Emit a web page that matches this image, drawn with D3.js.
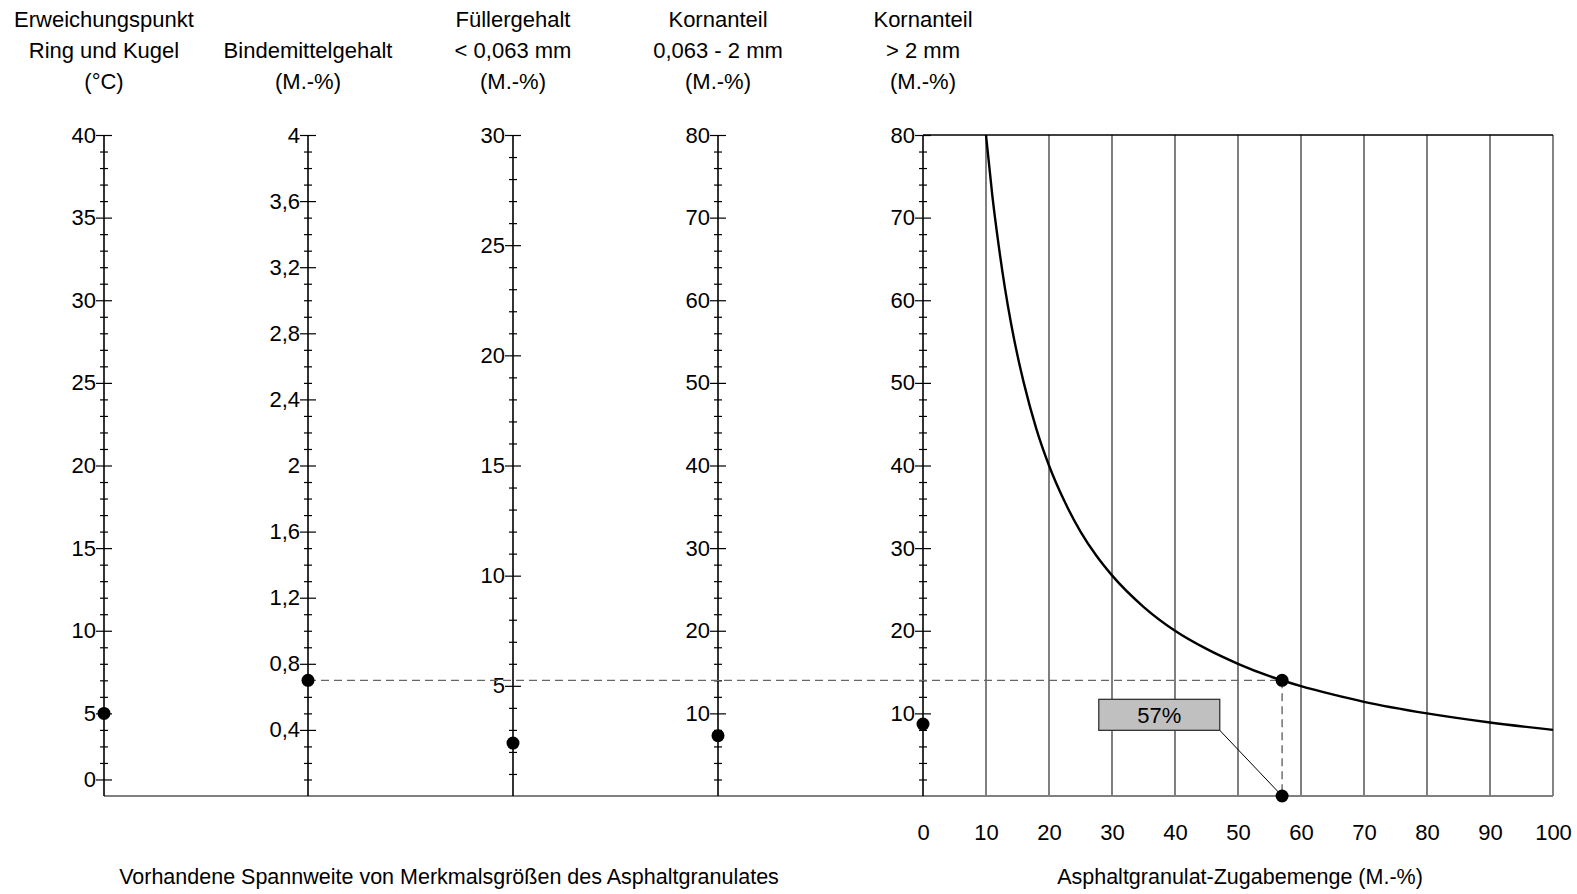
<!DOCTYPE html>
<html>
<head>
<meta charset="utf-8">
<script src="https://cdn.jsdelivr.net/npm/d3@7"></script>
<style>
  html, body { margin: 0; padding: 0; background: #fff; }
  svg { display: block; font-family: "Liberation Sans", Arial, sans-serif; }
</style>
</head>
<body>
<svg id="chart" width="1577" height="894"></svg>
<script>
// ---------- data ----------
const axisHeaders = [
  ["Erweichungspunkt", "Ring und Kugel", "(°C)"],
  ["", "Bindemittelgehalt", "(M.-%)"],
  ["Füllergehalt", "< 0,063 mm", "(M.-%)"],
  ["Kornanteil", "0,063 - 2 mm", "(M.-%)"],
  ["Kornanteil", "> 2 mm", "(M.-%)"]
];
const axisMax = [40, 4, 30, 80, 80];
const axisMinorStep = [1, 0.1, 1, 2, 2];
const axisTickValues = [
  [1, 5, 10, 15, 20, 25, 30, 35, 40],
  [0.4, 0.8, 1.2, 1.6, 2, 2.4, 2.8, 3.2, 3.6, 4],
  [5, 10, 15, 20, 25, 30],
  [10, 20, 30, 40, 50, 60, 70, 80],
  [10, 20, 30, 40, 50, 60, 70, 80]
];
const axisTickLabels = [
  ["0", "5", "10", "15", "20", "25", "30", "35", "40"],
  ["0,4", "0,8", "1,2", "1,6", "2", "2,4", "2,8", "3,2", "3,6", "4"],
  ["5", "10", "15", "20", "25", "30"],
  ["10", "20", "30", "40", "50", "60", "70", "80"],
  ["10", "20", "30", "40", "50", "60", "70", "80"]
];
const granulatValues = [5, 0.7, 2.4, 7.3, 8.7];

const zugabeTicks = [0, 10, 20, 30, 40, 50, 60, 70, 80, 90, 100];
const curveZugabe = [10, 11, 12, 13, 14, 15, 16, 18, 20, 22.5, 25, 27.5, 30, 35, 40, 45, 50, 55, 60, 65, 70, 80, 90, 100];
const curveKorn   = [80, 72.7, 66.7, 61.5, 57.1, 53.3, 50, 44.4, 40, 35.6, 32, 29.1, 26.7, 22.9, 20, 17.8, 16, 14.5, 13.3, 12.3, 11.4, 10, 8.9, 8];
const resultZugabe = 57;
const resultKorn = 14;
const resultLabel = "57%";

const titleLeft = "Vorhandene Spannweite von Merkmalsgrößen des Asphaltgranulates";
const titleRight = "Asphaltgranulat-Zugabemenge (M.-%)";

// ---------- layout ----------
const svg = d3.select("#chart");
const yTop = 135, yBase = 796;
const axisX = [104, 308, 513, 718, 923];
const xRight = 1553;

const yScales = axisMax.map(m => d3.scaleLinear().domain([0, m]).range([yBase, yTop]));
const xScale = d3.scaleLinear().domain([0, 100]).range([axisX[4], xRight]);
const yCurve = yScales[4];

const fs = 22;

// grid for right plot
const gGrid = svg.append("g");
gGrid.selectAll("line.v").data(zugabeTicks.filter(d => d > 0)).join("line")
  .attr("x1", d => xScale(d)).attr("x2", d => xScale(d))
  .attr("y1", yTop).attr("y2", yBase)
  .attr("stroke", d => d === 100 ? "#666" : "#2a2a2a").attr("stroke-width", d => d === 100 ? 1.6 : 1.2);
gGrid.append("line").attr("x1", axisX[4]).attr("x2", xRight).attr("y1", yTop).attr("y2", yTop)
  .attr("stroke", "#000").attr("stroke-width", 1.3);

// baseline
svg.append("line").attr("x1", axisX[0]).attr("x2", xRight).attr("y1", yBase).attr("y2", yBase)
  .attr("stroke", "#808080").attr("stroke-width", 2);

// x labels right plot
const xAxis = d3.axisBottom(xScale).tickValues(zugabeTicks).tickSize(0).tickPadding(28).tickFormat(d3.format("d"));
const gx = svg.append("g").attr("transform", `translate(0,${yBase})`).call(xAxis);
gx.select(".domain").remove();
gx.selectAll("text").attr("font-size", fs).attr("font-family", "Liberation Sans, Arial").attr("fill", "#000");

// vertical axes
axisX.forEach((x, i) => {
  const ys = yScales[i];
  const g = svg.append("g").attr("transform", `translate(${x},0)`);
  const step = axisMinorStep[i];
  const nMinor = Math.round(axisMax[i] / step);
  const minor = d3.range(1, nMinor + 1).map(k => +(k * step).toFixed(4))
    .filter(v => !axisTickValues[i].some(t => Math.abs(t - v) < 1e-6));
  // minor ticks both sides
  const gm1 = g.append("g").call(d3.axisLeft(ys).tickValues(minor).tickSize(4).tickFormat(""));
  const gm2 = g.append("g").call(d3.axisRight(ys).tickValues(minor).tickSize(4).tickFormat(""));
  [gm1, gm2].forEach(s => s.select(".domain").remove());
  // major ticks
  const labels = axisTickLabels[i];
  const vals = axisTickValues[i];
  const gM = g.append("g").call(d3.axisLeft(ys).tickValues(vals).tickSize(8).tickPadding(0)
    .tickFormat((d, k) => labels[k]));
  const gM2 = g.append("g").call(d3.axisRight(ys).tickValues(vals).tickSize(8).tickFormat(""));
  gM.select(".domain").remove(); gM2.select(".domain").remove();
  g.selectAll(".tick line").attr("stroke", "#000").attr("stroke-width", 1.2);
  gM.selectAll("text").attr("font-size", fs).attr("font-family", "Liberation Sans, Arial").attr("fill", "#000");
  // axis line
  g.append("line").attr("x1", 0).attr("x2", 0).attr("y1", ys(axisMax[i])).attr("y2", yBase)
    .attr("stroke", "#000").attr("stroke-width", 1.6);
  // header
  const hdr = svg.append("text").attr("text-anchor", "middle").attr("font-size", fs).attr("fill", "#000");
  axisHeaders[i].forEach((t, k) => {
    hdr.append("tspan").attr("x", x).attr("y", 27 + k * 31).text(t);
  });
});

// curve
const line = d3.line().x(d => xScale(d[0])).y(d => yCurve(d[1])).curve(d3.curveMonotoneX);
svg.append("path").datum(curveZugabe.map((z, k) => [z, curveKorn[k]]))
  .attr("d", line).attr("fill", "none").attr("stroke", "#000").attr("stroke-width", 2.4);

// dashed guide lines
const yRes = yCurve(resultKorn);
svg.append("line")
  .attr("x1", axisX[1]).attr("y1", yScales[1](granulatValues[1]))
  .attr("x2", xScale(resultZugabe)).attr("y2", yRes)
  .attr("stroke", "#666").attr("stroke-width", 1.4).attr("stroke-dasharray", "8,5");
svg.append("line")
  .attr("x1", xScale(resultZugabe)).attr("y1", yRes)
  .attr("x2", xScale(resultZugabe)).attr("y2", yBase)
  .attr("stroke", "#666").attr("stroke-width", 1.4).attr("stroke-dasharray", "8,5");

// label box
const boxX = xScale(27.9), boxW = 121, boxY = yCurve(11.7), boxH = 31;
svg.append("line")
  .attr("x1", boxX + boxW).attr("y1", boxY + boxH)
  .attr("x2", xScale(resultZugabe)).attr("y2", yBase)
  .attr("stroke", "#000").attr("stroke-width", 1);
svg.append("rect").attr("x", boxX).attr("y", boxY).attr("width", boxW).attr("height", boxH)
  .attr("fill", "#c0c0c0").attr("stroke", "#333").attr("stroke-width", 1.3);
svg.append("text").attr("x", boxX + boxW / 2).attr("y", boxY + boxH / 2).attr("dy", "0.35em")
  .attr("text-anchor", "middle").attr("font-size", fs).attr("fill", "#000").text(resultLabel);

// dots
svg.append("g").selectAll("circle").data(granulatValues).join("circle")
  .attr("cx", (d, i) => axisX[i]).attr("cy", (d, i) => yScales[i](d)).attr("r", 6.5).attr("fill", "#000");
svg.append("circle").attr("cx", xScale(resultZugabe)).attr("cy", yRes).attr("r", 6.5).attr("fill", "#000");
svg.append("circle").attr("cx", xScale(resultZugabe)).attr("cy", yBase).attr("r", 6.5).attr("fill", "#000");

// bottom titles
svg.append("text").attr("x", 449).attr("y", 884).attr("text-anchor", "middle")
  .attr("font-size", 21.5).attr("fill", "#000").text(titleLeft);
svg.append("text").attr("x", 1240).attr("y", 884).attr("text-anchor", "middle")
  .attr("font-size", 21.5).attr("fill", "#000").text(titleRight);
</script>
</body>
</html>
